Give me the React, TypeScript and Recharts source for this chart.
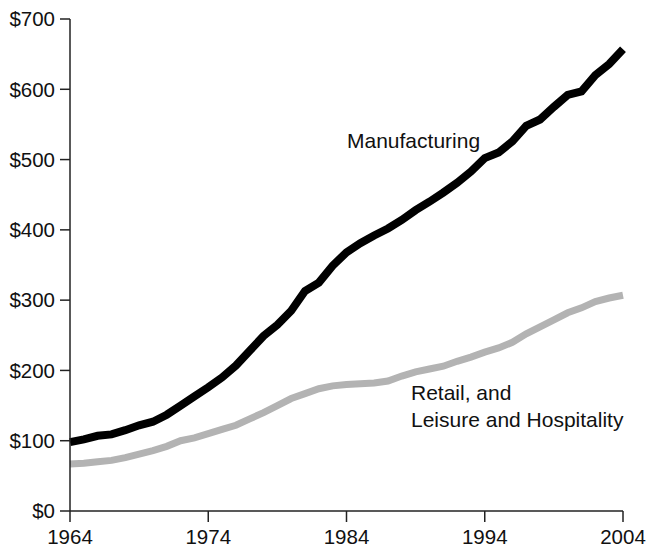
import { LineChart, Line, XAxis, YAxis } from 'recharts';

const years = [
  1964, 1965, 1966, 1967, 1968, 1969, 1970, 1971, 1972, 1973, 1974, 1975, 1976, 1977,
  1978, 1979, 1980, 1981, 1982, 1983, 1984, 1985, 1986, 1987, 1988, 1989, 1990, 1991,
  1992, 1993, 1994, 1995, 1996, 1997, 1998, 1999, 2000, 2001, 2002, 2003, 2004,
];

// dollars
const manufacturing = [
  98, 102, 107, 109, 115, 122, 127, 137, 150, 163, 176, 190, 207, 228,
  249, 265, 285, 313, 325, 349, 368, 381, 392, 402, 414, 428, 440, 453,
  467, 483, 502, 510, 526, 548, 557, 575, 592, 597, 620, 636, 657,
];

const retailLeisure = [
  67, 68, 70, 72, 76, 81, 86, 92, 100, 104, 110, 116, 122, 131,
  140, 150, 160, 167, 174, 178, 180, 181, 182, 185, 192, 198, 202, 206,
  213, 219, 226, 232, 240, 252, 262, 272, 282, 289, 298, 303, 307,
];

const xTicks = [1964, 1974, 1984, 1994, 2004];
const yTicks = [0, 100, 200, 300, 400, 500, 600, 700];

const data = years.map((year, i) => ({
  year,
  manufacturing: manufacturing[i],
  retail: retailLeisure[i],
}));

const FONT = '"Liberation Sans", Arial, Helvetica, sans-serif';
const tickStyle = { fontSize: 20.5, fill: '#111', fontFamily: FONT };
const noteStyle = {
  position: 'absolute' as const,
  fontFamily: FONT,
  fontSize: 21,
  color: '#111',
  lineHeight: '26.5px',
  whiteSpace: 'nowrap' as const,
};

export default function App() {
  return (
    <div style={{ position: 'relative', width: 645, height: 541 }}>
      <LineChart
        width={645}
        height={541}
        data={data}
        margin={{ top: 11, right: 30, bottom: 8, left: 2 }}
      >
        <XAxis
          dataKey="year"
          type="number"
          domain={[1964, 2004]}
          ticks={xTicks}
          tickSize={11}
          tickMargin={7}
          height={30}
          stroke="#222"
          strokeWidth={1.5}
          tick={tickStyle}
          interval={0}
        />
        <YAxis
          type="number"
          domain={[0, 700]}
          ticks={yTicks}
          tickFormatter={(v: number) => `$${v}`}
          tickSize={10}
          tickMargin={5}
          width={60}
          stroke="#222"
          strokeWidth={1.5}
          tick={tickStyle}
          interval={0}
        />
        <Line
          type="linear"
          dataKey="retail"
          stroke="#b3b3b3"
          strokeWidth={7}
          dot={false}
          isAnimationActive={false}
        />
        <Line
          type="linear"
          dataKey="manufacturing"
          stroke="#000"
          strokeWidth={8}
          dot={false}
          isAnimationActive={false}
        />
      </LineChart>
      <div style={{ ...noteStyle, left: 339, top: 120 }}>Manufacturing</div>
      <div style={{ ...noteStyle, left: 403, top: 372 }}>
        Retail, and
        <br />
        Leisure and Hospitality
      </div>
    </div>
  );
}
